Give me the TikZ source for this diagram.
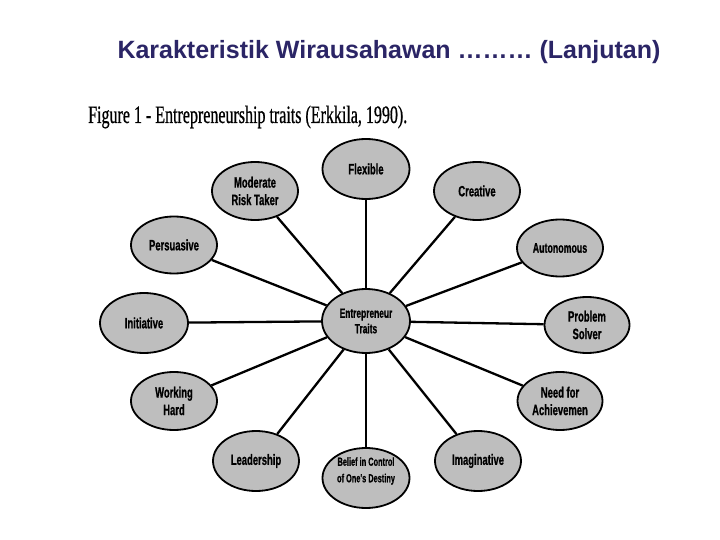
\documentclass[tikz,border=0pt]{standalone}
\usepackage{fontspec}
\setmainfont{Liberation Sans}
\newfontfamily\titlefont{Liberation Sans}
\newfontfamily\capfont[FakeStretch=0.64,FakeBold=0.6]{Liberation Serif}
\newfontfamily\lblfont[FakeStretch=0.63,FakeBold=0.8]{Liberation Sans}
\usetikzlibrary{shapes.geometric}
\definecolor{titleblue}{RGB}{43,37,102}
\definecolor{ellfill}{RGB}{190,190,190}
\tikzset{
  trait/.style={ellipse, draw=black, line width=1.8pt, fill=ellfill, inner sep=0pt,
    minimum width=86pt, minimum height=58pt, align=center,
    font=\lblfont\bfseries\fontsize{15}{17.5}\selectfont},
  spoke/.style={draw=black, line width=2.3pt}
}
\begin{document}
\begin{tikzpicture}[x=1pt,y=-1pt]
\useasboundingbox (0,0) rectangle (720,540);
\fill[white] (0,0) rectangle (720,540);
\node[font=\titlefont\bfseries\fontsize{25}{30}\selectfont, text=titleblue, inner sep=0pt]
  (title) at (389,52) {Karakteristik Wirausahawan ……… (Lanjutan)};
\node[font=\capfont\fontsize{25}{30}\selectfont, inner sep=0pt, anchor=west]
  (cap) at (88,117) {Figure 1 - Entrepreneurship traits (Erkkila, 1990).};

\node[trait, minimum width=88pt, minimum height=64pt, font=\lblfont\bfseries\fontsize{13.3}{15.5}\selectfont] (c) at (366,321) {Entrepreneur\\Traits};
\node[trait, minimum width=87pt, minimum height=60pt] (flex) at (366,169) {Flexible};
\node[trait] (mod) at (255,191) {Moderate\\Risk Taker};
\node[trait, minimum width=86pt] (cre) at (477,191) {Creative};
\node[trait, minimum height=57pt] (per) at (174,245) {Persuasive};
\node[trait, minimum height=57pt, font=\lblfont\bfseries\fontsize{14}{16}\selectfont] (aut) at (560,248) {Autonomous};
\node[trait, minimum width=88pt, minimum height=60pt] (ini) at (144,323) {Initiative};
\node[trait, minimum width=85pt, minimum height=56pt] (prob) at (587,325) {Problem\\Solver};
\node[trait] (work) at (174,401) {Working\\Hard};
\node[trait, minimum width=85pt] (need) at (560,401) {Need for\\Achievemen};
\node[trait, minimum height=60pt] (lead) at (256,461) {Leadership};
\node[trait, minimum width=87pt, minimum height=60pt] (bel) at (366,478) {};
\node[align=center, inner sep=0pt, font=\lblfont\bfseries\fontsize{11.7}{16.5}\selectfont] (beltext) at (366,471) {Belief in Control\\of One's Destiny};
\node[trait, minimum height=60pt] (ima) at (478,461) {Imaginative};

\foreach \n in {flex,mod,cre,per,aut,ini,prob,work,need,lead,bel,ima}{
  \draw[spoke] (c) -- (\n);
}
\end{tikzpicture}
\end{document}
